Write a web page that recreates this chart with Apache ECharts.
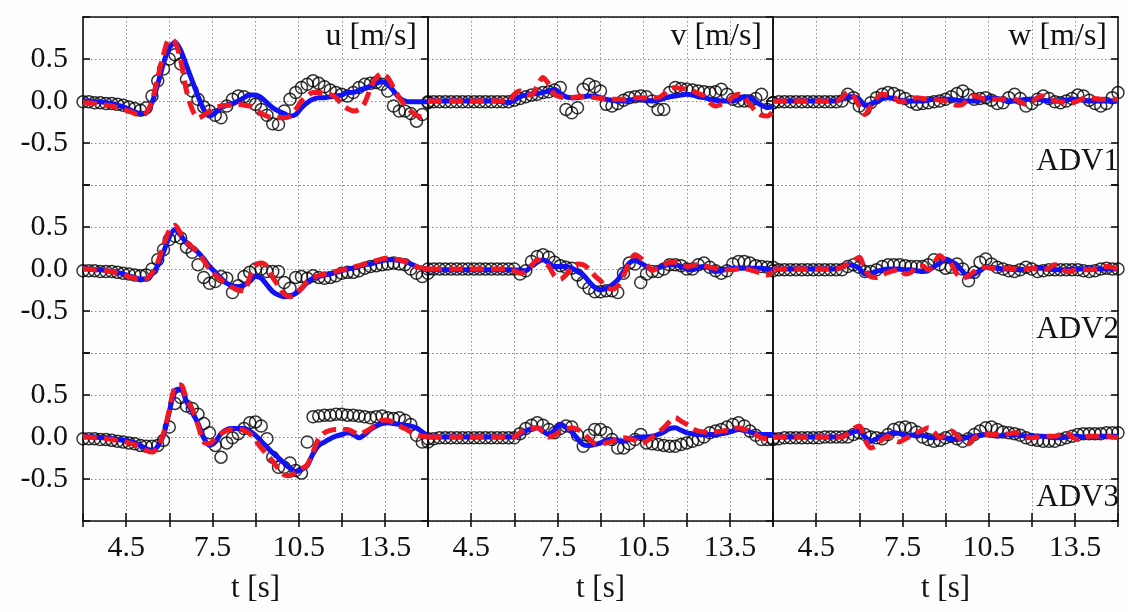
<!DOCTYPE html>
<html><head><meta charset="utf-8">
<script src="https://cdn.jsdelivr.net/npm/echarts@6/dist/echarts.min.js"></script>
<style>html,body{margin:0;padding:0;background:#fdfdfd}#c{width:1128px;height:612px}</style>
</head><body><div id="c"></div>
<script>
// time axis [s]
const t = [
3.0,3.2,3.4,3.6,3.8,4.0,4.2,4.4,4.6,4.8,
5.0,5.2,5.4,5.6,5.8,6.0,6.2,6.4,6.6,6.8,
7.0,7.2,7.4,7.6,7.8,8.0,8.2,8.4,8.6,8.8,
9.0,9.2,9.4,9.6,9.8,10.0,10.2,10.4,10.6,10.8,
11.0,11.2,11.4,11.6,11.8,12.0,12.2,12.4,12.6,12.8,
13.0,13.2,13.4,13.6,13.8,14.0,14.2,14.4,14.6,14.8,
15.0];

// ---------- ADV1 ----------
const u1Exp = [-0.01,-0.01,-0.02,-0.02,-0.03,-0.03,-0.04,-0.05,-0.07,-0.09,
-0.11,-0.08,0.06,0.24,0.38,0.5,0.55,0.44,0.26,0.12,
0.02,-0.07,-0.12,-0.17,-0.2,-0.06,0.02,0.06,0.05,0.02,
-0.04,-0.1,-0.17,-0.27,-0.28,-0.12,0.02,0.1,0.16,0.2,
0.24,0.21,0.17,0.13,0.1,0.08,0.06,0.1,0.16,0.2,
0.21,0.22,0.2,0.12,-0.06,-0.12,-0.12,-0.15,-0.24,-0.16,
-0.02];
const u1Blue = [0,0,-0.01,-0.01,-0.02,-0.03,-0.05,-0.07,-0.1,-0.13,
-0.15,-0.14,-0.02,0.2,0.45,0.63,0.7,0.6,0.42,0.24,
0.06,-0.1,-0.18,-0.14,-0.08,-0.05,-0.03,0,0.04,0.07,
0.07,0.04,-0.02,-0.08,-0.12,-0.15,-0.18,-0.16,-0.08,-0.02,
0.02,0.04,0.04,0.05,0.06,0.07,0.1,0.1,0.13,0.15,
0.18,0.21,0.23,0.2,0.12,0.04,0,-0.01,-0.01,-0.01,
-0.01];
const u1Red = [-0.02,-0.02,-0.03,-0.04,-0.05,-0.06,-0.08,-0.1,-0.12,-0.15,
-0.17,-0.14,0,0.28,0.55,0.73,0.7,0.48,0.12,-0.1,
-0.2,-0.17,-0.12,-0.08,-0.06,-0.05,-0.05,-0.04,-0.05,-0.06,
-0.1,-0.15,-0.18,-0.2,-0.2,-0.2,-0.18,-0.1,0,0.06,
0.1,0.1,0.09,0.08,0.04,-0.04,-0.09,-0.12,-0.1,-0.02,
0.15,0.28,0.33,0.28,0.16,0.04,-0.05,-0.12,-0.17,-0.19,
-0.16];
const v1Exp = [-0.01,-0.01,-0.01,-0.01,-0.01,-0.01,-0.01,-0.01,-0.01,-0.01,
-0.01,-0.01,-0.01,-0.01,-0.01,0.01,0.03,0.05,0.07,0.08,
0.1,0.11,0.13,0.16,-0.1,-0.14,-0.08,0.14,0.2,0.17,
0.12,-0.04,-0.06,-0.03,0.01,0.04,0.05,0.06,0.05,0,
-0.1,-0.1,0.1,0.16,0.15,0.14,0.13,0.12,0.11,0.1,
0.11,0.14,0.08,0.02,0,0,0,0.03,0.08,-0.1,
-0.02];
const v1Blue = [0,0,0,0,0,0,0,0,0,0,
0,0,0,-0.01,-0.02,0.01,0.05,0.07,0.08,0.09,
0.1,0.12,0.14,0.09,0.05,0.04,0.04,0.05,0.06,0.06,
0.04,0.02,0.01,0,0,0.01,0.02,0.02,0.01,0,
0.01,0.03,0.05,0.06,0.07,0.08,0.07,0.05,0.04,0.02,
0.01,0,0,0,0.02,0.05,0.04,-0.01,-0.05,-0.08,
-0.06];
const v1Red = [0,0,0,0,0,0,0,0,0,0,
0,0,0,0,-0.01,0.08,0.12,0.08,0.07,0.18,
0.28,0.2,0.08,0.05,0.04,0.04,0.05,0.05,0.05,0.04,
0.03,0.02,0.02,0.02,0.02,0.03,0.04,0.04,0.04,0.04,
0.04,0.08,0.14,0.16,0.15,0.14,0.12,0.09,0.06,-0.02,
-0.06,-0.04,-0.02,0.05,0.08,0.04,-0.04,-0.12,-0.17,-0.18,
-0.12];
const w1Exp = [-0.02,-0.01,-0.01,-0.01,-0.01,-0.01,-0.01,-0.01,-0.01,-0.01,
-0.01,-0.01,0,0.08,0.04,-0.06,-0.1,-0.02,0.04,0.08,
0.1,0.09,0.06,0.03,-0.01,-0.04,-0.03,-0.02,-0.01,0,
0.02,0.05,0.09,0.12,0.07,0.02,0.03,0.04,0.01,-0.03,
-0.02,0.04,0.08,0.03,-0.06,-0.03,0.02,0.06,0.03,-0.01,
-0.02,0,0.03,0.07,0.06,0.01,-0.03,-0.06,-0.03,0.04,
0.1];
const w1Blue = [0,0,0,0,0,0,0,0,0,0,
0,0,0.02,0.05,0.05,0.02,-0.05,-0.04,0,0.03,
0.04,0.03,0.01,0,0,0,0,0.01,0.02,0.02,
0.02,0.02,0.01,0,0,0,0.01,0.03,0.04,0.03,
0.01,0,0,0.01,0.02,0.02,0.02,0.01,0,0,
0,0.01,0.02,0.02,0.01,0,0,0,0,0,
0];
const w1Red = [0,0,0,0,0,0,0,0,0,0,
0,0,0.04,0.11,0.06,-0.06,-0.16,-0.06,0.03,0.08,
0.07,0.05,-0.01,0,0.02,0.04,0.03,0.02,0.02,0.01,
0,-0.03,-0.05,-0.04,0.03,0.06,0.04,0.02,0.02,0.02,
0.02,0.02,0.02,-0.01,-0.04,-0.01,0.04,0.06,0.03,0,
-0.01,-0.02,-0.02,0,0.03,0.04,0.03,0.02,0.02,0.02,
0.02];

// ---------- ADV2 ----------
const u2Exp = [-0.02,-0.02,-0.02,-0.03,-0.03,-0.03,-0.04,-0.05,-0.06,-0.07,
-0.08,-0.07,0,0.11,0.23,0.35,0.39,0.37,0.26,0.2,
0.05,-0.1,-0.17,-0.15,-0.09,-0.11,-0.28,-0.2,-0.09,-0.04,
0,0,-0.03,-0.03,-0.03,-0.16,-0.23,-0.1,-0.09,-0.11,
-0.08,-0.1,-0.11,-0.1,-0.08,-0.05,-0.04,-0.04,-0.02,0.01,
0.03,0.04,0.05,0.06,0.07,0.06,0.05,0,-0.05,-0.09,
-0.05];
const u2Blue = [0,0,-0.01,-0.01,-0.02,-0.03,-0.04,-0.06,-0.08,-0.1,
-0.12,-0.12,-0.06,0.04,0.2,0.38,0.47,0.4,0.31,0.25,
0.2,0.12,0.03,-0.04,-0.11,-0.17,-0.2,-0.21,-0.19,-0.15,
-0.09,-0.11,-0.19,-0.27,-0.31,-0.33,-0.32,-0.29,-0.23,-0.16,
-0.11,-0.09,-0.07,-0.06,-0.04,-0.02,0,0.01,0.03,0.05,
0.06,0.08,0.1,0.11,0.11,0.1,0.09,0.06,0.03,0.01,
0];
const u2Red = [0,0,-0.01,-0.01,-0.02,-0.03,-0.05,-0.07,-0.09,-0.11,
-0.13,-0.12,-0.05,0.08,0.28,0.46,0.52,0.42,0.32,0.26,
0.2,0.1,0,-0.07,-0.13,-0.18,-0.22,-0.25,-0.26,-0.1,
0.04,0.07,0.03,-0.1,-0.2,-0.3,-0.33,-0.3,-0.23,-0.15,
-0.1,-0.08,-0.06,-0.05,-0.03,-0.01,0,0.02,0.04,0.06,
0.08,0.1,0.12,0.13,0.12,0.11,0.09,0.06,0.03,0.01,
0];
const v2Exp = [0,0,0,0,0,0,0,0,0,0,
0,0,0,0,0,0,-0.06,-0.02,0.09,0.15,
0.17,0.14,0.08,0.04,0.02,0.01,-0.07,-0.16,-0.23,-0.27,
-0.27,-0.26,-0.26,-0.28,-0.05,0.07,0.06,-0.16,-0.06,-0.03,
-0.03,0,0.05,0.05,0.04,0,0,0.05,0.07,0.02,
-0.02,-0.05,-0.02,0.06,0.09,0.09,0.07,0.04,0.03,0.02,
0.02];
const v2Blue = [-0.01,-0.01,-0.01,-0.01,-0.01,-0.01,-0.01,-0.01,-0.01,-0.01,
-0.01,-0.01,-0.01,-0.01,-0.01,-0.01,-0.02,-0.02,0.04,0.08,
0.11,0.07,0.03,0.03,0.03,0.01,-0.03,-0.07,-0.15,-0.22,
-0.25,-0.23,-0.19,-0.13,-0.03,0.07,0.1,0.07,0.03,-0.01,
0.01,0.04,0.05,0.05,0.03,0,-0.01,0.02,0.03,0.01,
-0.03,-0.02,0,0.01,0.01,0.01,0.01,0.01,0.01,0,
-0.01];
const v2Red = [0,0,0,0,0,0,0,0,0,0,
0,0,0,0,0,-0.02,-0.05,-0.03,0.04,0.11,
0.08,0.03,-0.08,-0.12,-0.07,0.02,0.06,0.05,0,-0.08,
-0.14,-0.22,-0.24,-0.2,-0.08,0.08,0.17,0.13,0.06,-0.02,
0.02,0.05,0.08,0.08,0.06,0.03,0.04,0.05,0.04,0.02,
0.01,0,-0.01,-0.01,0,0,-0.01,-0.03,-0.05,-0.07,
-0.03];
const w2Exp = [-0.02,-0.01,-0.01,-0.01,-0.01,-0.01,-0.01,-0.01,-0.01,-0.01,
-0.01,-0.01,-0.01,0.03,0.05,0.02,-0.03,-0.03,-0.01,0.03,
0.05,0.05,0.05,0.04,0.03,0.03,0.03,0.05,0.11,0.05,
0.01,0.02,0.06,0,-0.14,-0.04,0.08,0.12,0.06,0.02,
0,-0.02,-0.03,-0.01,0.02,0,-0.03,-0.02,-0.01,-0.01,
-0.01,-0.01,-0.01,-0.01,-0.02,-0.03,-0.02,0,0.01,0,
0];
const w2Blue = [0,0,0,0,0,0,0,0,0,0,
0,0,0.02,0.05,0.04,0.01,-0.06,-0.05,-0.03,-0.01,
0,0,0,-0.01,-0.01,-0.02,-0.03,-0.02,0.03,0.07,
0.12,0.09,0.05,-0.03,-0.09,-0.06,-0.02,0.02,0.02,0.01,
0,0,-0.01,-0.01,0,0.01,0.01,0.01,0,-0.01,
-0.01,-0.01,0,0,0,0,0,0,0,0,
0];
const w2Red = [0,0,0,0,0,0,0,0,0,0,
0,0,0.02,0.06,0.1,0.14,-0.01,-0.09,-0.1,-0.07,
-0.04,-0.02,0,-0.06,-0.04,0.03,0.04,-0.01,0.07,0.16,
0.1,0.06,-0.06,-0.11,-0.08,-0.03,0.02,0.02,0.01,0.01,
0.01,0.01,0,-0.01,0,0.01,0,-0.01,0.01,0.05,
0.02,-0.03,-0.02,-0.01,-0.01,-0.01,0,0.02,0.03,0.02,
0];

// ---------- ADV3 ----------
const u3Exp = [-0.02,-0.02,-0.02,-0.03,-0.03,-0.04,-0.05,-0.06,-0.07,-0.08,
-0.1,-0.11,-0.11,-0.1,-0.04,0.12,0.4,0.47,0.37,0.34,
0.27,0.16,0.05,-0.1,-0.24,-0.07,-0.01,0.04,0.1,0.17,
0.18,0.13,-0.02,-0.24,-0.36,-0.36,-0.31,-0.4,-0.43,-0.06,
0.24,0.25,0.26,0.26,0.27,0.27,0.26,0.26,0.25,0.24,
0.23,0.24,0.25,0.23,0.22,0.23,0.2,0.15,0.02,-0.06,
-0.02];
const u3Blue = [0,0,0,-0.01,-0.01,-0.02,-0.03,-0.04,-0.05,-0.07,
-0.1,-0.14,-0.16,-0.11,0.02,0.3,0.55,0.57,0.42,0.3,
0.16,-0.01,-0.1,-0.06,0.04,0.09,0.1,0.1,0.1,0.07,
0.02,-0.05,-0.12,-0.19,-0.25,-0.31,-0.37,-0.41,-0.39,-0.34,
-0.2,-0.1,-0.06,-0.02,0.01,0.03,0.05,0.03,-0.01,0.03,
0.09,0.13,0.16,0.17,0.16,0.15,0.14,0.13,0.11,0.06,
0.01];
const u3Red = [0,0,-0.01,-0.01,-0.02,-0.03,-0.04,-0.05,-0.07,-0.09,
-0.12,-0.16,-0.18,-0.12,0.04,0.32,0.6,0.62,0.45,0.33,
0.14,-0.06,-0.08,-0.01,0.04,0.08,0.09,0.09,0.08,0.04,
-0.04,-0.13,-0.21,-0.29,-0.38,-0.45,-0.46,-0.42,-0.38,-0.33,
-0.18,-0.02,0.05,0.08,0.09,0.09,0.09,0.06,0.03,0.06,
0.1,0.15,0.2,0.2,0.17,0.13,0.1,0.06,0.03,0.01,
0];
const v3Exp = [-0.06,-0.02,-0.01,-0.01,-0.01,-0.01,-0.01,-0.01,-0.01,-0.01,
-0.01,-0.01,-0.01,-0.01,-0.01,-0.01,0.04,0.1,0.14,0.17,
0.14,0.09,0.05,0.1,0.13,0.12,0.02,-0.11,0.02,0.09,
0.09,0.05,-0.03,-0.13,-0.13,-0.08,-0.03,0.03,-0.07,-0.08,
-0.09,-0.1,-0.11,-0.11,-0.09,-0.07,-0.05,-0.03,0,0.05,
0.07,0.09,0.12,0.15,0.17,0.13,0.07,0.02,-0.03,-0.03,
-0.02];
const v3Blue = [0,0,0,0,0,0,0,0,0,0,
0,0,0,0,0,0,0.03,0.07,0.1,0.11,
0.07,0.03,0.08,0.15,0.11,0.06,-0.02,-0.09,-0.1,-0.09,
-0.07,-0.04,-0.03,-0.04,-0.05,-0.03,-0.01,0,0,0.01,
0.03,0.06,0.1,0.11,0.08,0.05,0.04,0.03,0.03,0.03,
0.03,0.04,0.05,0.07,0.09,0.08,0.06,0.04,0.03,0.03,
0.03];
const v3Red = [0,0,0,0,0,0,0,0,0,0,
0,0,0,0,0,0,0.05,0.09,0.1,0.11,
0.06,0,0.02,0.07,0.09,0.11,0.09,0.05,-0.02,-0.08,
-0.09,-0.07,-0.05,-0.03,-0.01,-0.02,-0.04,-0.08,-0.05,0,
0.05,0.11,0.18,0.23,0.19,0.15,0.1,0.07,0.06,0.05,
0.06,0.07,0.08,0.1,0.11,0.09,0.07,0.03,-0.01,-0.02,
-0.01];
const w3Exp = [-0.03,-0.02,-0.01,-0.01,-0.01,-0.01,-0.01,-0.01,-0.01,0,
0,0,0,0,0.03,0.05,0.03,0,-0.01,-0.02,
0.03,0.09,0.11,0.12,0.1,0.06,0,-0.03,-0.05,-0.04,
-0.01,0.01,-0.02,-0.05,-0.02,0.03,0.07,0.11,0.12,0.09,
0.06,0.05,0.04,0.02,-0.01,-0.03,-0.04,-0.05,-0.05,-0.05,
-0.03,-0.01,0.01,0.03,0.04,0.04,0.04,0.04,0.05,0.05,
0.05];
const w3Blue = [0,0,0,0,0,0,0,0,0,0,
0,0,0.01,0.03,0.06,0.07,0,-0.05,-0.02,0.01,
0.03,0.05,0.04,0.02,0.02,0.03,0.02,0,-0.01,-0.01,
-0.01,-0.02,-0.03,-0.02,0,0.01,0.02,0.03,0.02,0.01,
0.02,0.03,0.03,0.02,0.01,0.01,0.01,0.01,0,-0.01,
-0.01,0,0.01,0.01,0,0,0,0.01,0.01,0.01,
0.01];
const w3Red = [0,0,0,0,0,0,0,0,0,0,
0,0,0,0.04,0.1,0.13,-0.03,-0.13,-0.1,-0.03,
0.01,-0.04,-0.06,-0.02,0.01,0.05,0.08,0.11,0.06,-0.01,
0.03,0.07,0.02,-0.06,-0.08,-0.01,0.02,0.03,0.03,0.03,
0.03,0.04,0.05,0.03,0,-0.01,0,0.01,0.01,0.01,
0.03,0.05,0,-0.03,-0.01,0.01,0.01,0.01,0.01,0,
-0.01];

const componentTitles = ['u [m/s]', 'v [m/s]', 'w [m/s]'];
const probeLabels = ['ADV1', 'ADV2', 'ADV3'];
const xTicks = [4.5, 7.5, 10.5, 13.5];
const yTicks = [0.5, 0.0, -0.5];

const panels = [
  [u1Exp, u1Blue, u1Red], [v1Exp, v1Blue, v1Red], [w1Exp, w1Blue, w1Red],
  [u2Exp, u2Blue, u2Red], [v2Exp, v2Blue, v2Red], [w2Exp, w2Blue, w2Red],
  [u3Exp, u3Blue, u3Red], [v3Exp, v3Blue, v3Red], [w3Exp, w3Blue, w3Red]
];

const FONT = '"Liberation Serif", "DejaVu Serif", serif';
const colL = [83, 428, 773], rowT = [17, 185, 353], PW = 345, PH = 168;
const BLUE = '#1212f2', RED = '#f01822';
const gridLine = {show: true, lineStyle: {color: '#8c8c8c', width: 1, type: [1.5, 2.5]}};
const axisLineStyle = {color: '#111', width: 1.6};

const grid = [], xAxis = [], yAxis = [], series = [];
for (let r = 0; r < 3; r++) {
  for (let c = 0; c < 3; c++) {
    const k = r * 3 + c;
    grid.push({left: colL[c], top: rowT[r], width: PW, height: PH});
    const bottom = r === 2;
    xAxis.push({
      type: 'value', gridIndex: k, min: 3, max: 15, interval: 1.5, position: 'bottom',
      axisLine: {show: bottom, onZero: false, lineStyle: axisLineStyle},
      axisTick: {show: bottom, inside: true, length: 8, lineStyle: axisLineStyle},
      axisLabel: {show: bottom, margin: 12, fontFamily: FONT, fontSize: 30, color: '#111',
        formatter: v => xTicks.some(x => Math.abs(x - v) < 1e-6) ? v.toFixed(1) : ''},
      splitLine: gridLine,
      name: bottom ? 't [s]' : '', nameLocation: 'middle', nameGap: 52,
      nameTextStyle: {fontFamily: FONT, fontSize: 31, color: '#111'}
    });
    yAxis.push({
      type: 'value', gridIndex: k, min: -1, max: 1, interval: 0.5, position: 'left',
      axisLine: {show: true, onZero: false, lineStyle: axisLineStyle},
      axisTick: {show: c === 0, inside: true, length: 7, lineStyle: axisLineStyle},
      axisLabel: {show: c === 0, margin: 15, fontFamily: FONT, fontSize: 30, color: '#111',
        formatter: v => yTicks.some(y => Math.abs(y - v) < 1e-6) ? v.toFixed(1) : ''},
      splitLine: gridLine
    });
    const d = panels[k];
    series.push({type: 'scatter', xAxisIndex: k, yAxisIndex: k, symbol: 'circle', symbolSize: 12,
      itemStyle: {color: 'rgba(0,0,0,0)', borderColor: '#000', borderWidth: 1.5},
      data: t.map((x, i) => [x, d[0][i]]), z: 2});
    series.push({type: 'line', xAxisIndex: k, yAxisIndex: k, showSymbol: false, smooth: 0.3,
      lineStyle: {color: BLUE, width: 5}, data: t.map((x, i) => [x, d[1][i]]), z: 3});
    series.push({type: 'line', xAxisIndex: k, yAxisIndex: k, showSymbol: false, smooth: 0.3,
      lineStyle: {color: RED, width: 5, type: [14, 7]}, data: t.map((x, i) => [x, d[2][i]]), z: 4});
  }
}
// right-hand axes (frame + inward ticks)
for (let k = 0; k < 9; k++) {
  yAxis.push({type: 'value', gridIndex: k, min: -1, max: 1, interval: 0.5, position: 'right',
    axisLine: {show: true, onZero: false, lineStyle: axisLineStyle},
    axisTick: {show: true, inside: true, length: 7, lineStyle: axisLineStyle},
    axisLabel: {show: false}, splitLine: {show: false}});
}
// top frame for first row, outward ticks for bottom row
for (let c = 0; c < 3; c++) {
  xAxis.push({type: 'value', gridIndex: c, min: 3, max: 15, interval: 1.5, position: 'top',
    axisLine: {show: true, onZero: false, lineStyle: axisLineStyle},
    axisTick: {show: false}, axisLabel: {show: false}, splitLine: {show: false}});
  xAxis.push({type: 'value', gridIndex: 6 + c, min: 3, max: 15, interval: 1.5, position: 'bottom',
    axisLine: {show: false, onZero: false},
    axisTick: {show: true, inside: false, length: 6, lineStyle: axisLineStyle},
    axisLabel: {show: false}, splitLine: {show: false}});
}

const graphic = [];
for (let c = 0; c < 3; c++) {
  graphic.push({type: 'text', right: 1128 - (colL[c] + PW - 11), top: 21, z: 100,
    style: {text: componentTitles[c], font: '32px ' + FONT, fill: '#111'}});
}
for (let r = 0; r < 3; r++) {
  graphic.push({type: 'text', right: 1128 - 1119, top: rowT[r] + 129, z: 100,
    style: {text: probeLabels[r], font: '31px ' + FONT, fill: '#111'}});
}

const chart = echarts.init(document.getElementById('c'), null, {renderer: 'canvas'});
chart.setOption({
  backgroundColor: '#fdfdfd', animation: false,
  grid, xAxis, yAxis, series, graphic
});
</script></body></html>
